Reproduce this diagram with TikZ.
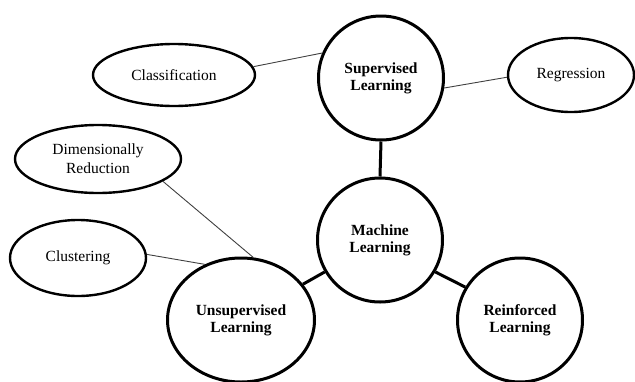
\documentclass[tikz,border=0pt]{standalone}
\usepackage{fontspec}
\setmainfont{Liberation Serif}
\usetikzlibrary{shapes.geometric}
\begin{document}
\begin{tikzpicture}[x=1pt,y=-1pt,
  mainbox/.style={ellipse,draw,line width=3pt,inner sep=0pt,align=center,
    font=\fontsize{15.5}{17}\selectfont\bfseries},
  leafbox/.style={ellipse,draw,line width=2.4pt,inner sep=0pt,align=center,
    font=\fontsize{15.5}{19}\selectfont},
  thinlink/.style={draw=black!75,line width=0.9pt},
  thicklink/.style={draw,line width=3pt}]
\useasboundingbox (0,0) rectangle (635,381);
% central concept and its three branches
\node[mainbox,minimum width=125pt,minimum height=124pt] (ml) at (380,240) {Machine\\Learning};
\node[mainbox,minimum width=125pt,minimum height=124pt] (sup) at (381,78) {Supervised\\Learning};
\node[mainbox,minimum width=147pt,minimum height=124pt] (uns) at (241,320) {Unsupervised\\Learning};
\node[mainbox,minimum width=125pt,minimum height=124pt] (rei) at (520,320) {Reinforced\\Learning};
% leaf tasks
\node[leafbox,minimum width=162pt,minimum height=62pt] (cls) at (174,75) {Classification};
\node[leafbox,minimum width=126pt,minimum height=74pt] (reg) at (571,75) {Regression};
\node[leafbox,minimum width=166pt,minimum height=68pt] (dim) at (98,159) {Dimensionally\\Reduction};
\node[leafbox,minimum width=136pt,minimum height=76pt] (clu) at (78,258) {Clustering};
% connectors
\draw[thicklink] (sup.south) -- (ml.north);
\draw[thicklink] (ml.210) -- (uns.30);
\draw[thicklink] (ml.-30) -- (rei.149);
\draw[thinlink] (cls.6) -- (sup.157);
\draw[thinlink] (sup.-9) -- (reg.182);
\draw[thinlink] (dim.-19) -- (uns.79);
\draw[thinlink] (clu.3) -- (uns.123);
\end{tikzpicture}
\end{document}
